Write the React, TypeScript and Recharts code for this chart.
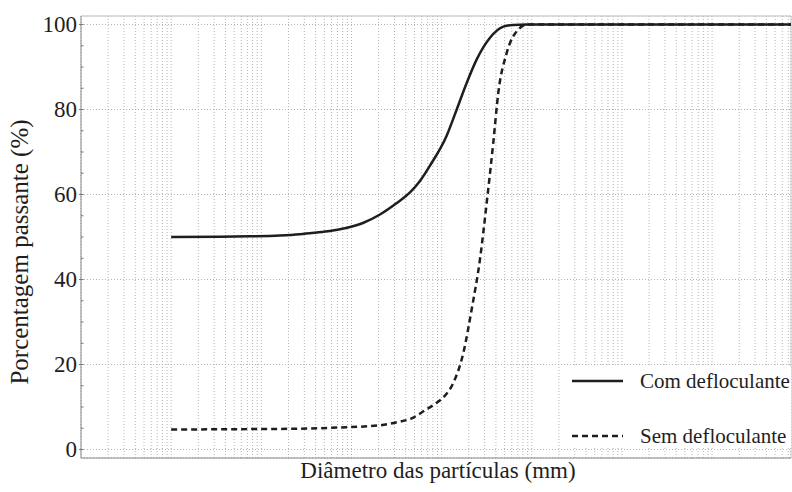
import { LineChart, Line, CartesianGrid, XAxis, YAxis, Legend, ReferenceLine } from "recharts";

// diameter (mm) / percentage passing
const comDiam = [0.001, 0.00348, 0.0075, 0.0161, 0.0269, 0.0394, 0.0578, 0.0869, 0.134, 0.207, 0.318, 0.446, 0.575, 0.743, 1.14, 1.47, 1.9, 2.45, 3.44, 4.83, 6.18, 8.85, 7500];
const comPass = [50.0, 50.05, 50.15, 50.35, 50.65, 51.0, 51.4, 52.1, 53.3, 55.3, 58.0, 60.5, 63.2, 66.8, 73.9, 80, 86.3, 91.8, 96.9, 99.5, 99.9, 100, 100];

const semDiam = [0.001, 0.0075, 0.0269, 0.0578, 0.207, 0.318, 0.485, 0.627, 0.881, 1.07, 1.35, 1.74, 2.15, 2.66, 3.16, 3.74, 4.25, 5.27, 7.4, 8.85, 7500];
const semPass = [4.7, 4.8, 4.9, 5.1, 5.7, 6.4, 7.5, 9.0, 11, 12.5, 15.7, 22.7, 32.9, 44.7, 58, 72.2, 83.9, 93.3, 99.2, 100, 100];

const seriesNames = ["Com defloculante", "Sem defloculante"];

const decades = [1e-4, 1e-3, 1e-2, 1e-1, 1, 10, 100, 1000];
const multipliers = [1, 2, 3, 4, 5, 6, 7, 8, 9];
const xDomain = [1e-4, 7500];

const yDomain = [-2, 102];
const yTicks = [0, 5, 10, 15, 20, 25, 30, 35, 40, 45, 50, 55, 60, 65, 70, 75, 80, 85, 90, 95, 100];
const yMajor = [0, 20, 40, 60, 80, 100];

const comData = comDiam.map((d, i) => ({ d, p: comPass[i] }));
const semData = semDiam.map((d, i) => ({ d, p: semPass[i] }));
const gridTicks = decades
  .flatMap((dec) => multipliers.map((m) => m * dec))
  .filter((v) => v <= xDomain[1]);

const FONT = "'Liberation Serif', 'Times New Roman', serif";
const INK = "#1e1e1e";

const YTick = ({ x, y, payload }: any) => {
  const major = payload.value % 20 === 0;
  return (
    <g>
      <line x1={major ? x + 2 : x + 4} x2={x + 6.5} y1={y} y2={y} stroke="#777" />
      {major && (
        <text x={x} y={y} dy="0.33em" textAnchor="end" fontFamily={FONT} fontSize={23} fill={INK}>
          {payload.value}
        </text>
      )}
    </g>
  );
};

const renderLegend = () => (
  <div style={{ background: "#fff", width: 228, height: 81, position: "relative", fontFamily: FONT, fontSize: 21, color: INK }}>
    {seriesNames.map((name, i) => (
      <div key={name} style={{ position: "absolute", left: 0, top: i === 0 ? 0 : 55, height: 28, display: "flex", alignItems: "center", whiteSpace: "nowrap" }}>
        <svg width={77} height={28}>
          <line x1={9} x2={60} y1={14} y2={14} stroke={INK} strokeWidth={2.5} strokeDasharray={i ? "6 4" : undefined} />
        </svg>
        <span>{name}</span>
      </div>
    ))}
  </div>
);

export default function App() {
  return (
    <div style={{ position: "absolute", left: 0, top: 0 }}>
      <LineChart width={792} height={492} margin={{ top: 16, right: 1, bottom: 0, left: 0 }}>
        <CartesianGrid xAxisId="grid" yAxisId="grid" stroke="#b4b4b4" strokeDasharray="1 2" />
        <XAxis
          dataKey="d"
          type="number"
          scale="log"
          domain={xDomain}
          allowDataOverflow
          ticks={gridTicks}
          interval={0}
          tick={false}
          tickLine={false}
          height={34}
          axisLine={{ stroke: "#888" }}
          label={{
            content: ({ viewBox }: any) => (
              <text x={viewBox.x + viewBox.width / 2 + 2} y={478} textAnchor="middle" fontFamily={FONT} fontSize={23} fill={INK}>
                Diâmetro das partículas (mm)
              </text>
            ),
          }}
        />
        <XAxis xAxisId="grid" dataKey="d" type="number" scale="log" domain={xDomain} allowDataOverflow ticks={gridTicks} interval={0} hide />
        <YAxis
          type="number"
          domain={yDomain}
          allowDataOverflow
          ticks={yTicks}
          interval={0}
          width={81}
          tickSize={3}
          tickMargin={1}
          tickLine={false}
          tick={<YTick />}
          axisLine={{ stroke: "#888" }}
          label={{
            content: () => (
              <text x={28} y={252} transform="rotate(-90 28 252)" textAnchor="middle" fontFamily={FONT} fontSize={25} fill={INK}>
                Porcentagem passante (%)
              </text>
            ),
          }}
        />
        <YAxis yAxisId="grid" type="number" domain={yDomain} allowDataOverflow ticks={yMajor} hide />
        <ReferenceLine y={yDomain[1]} stroke="#c4c4c4" />
        <ReferenceLine x={xDomain[1]} stroke="#c4c4c4" />
        <Line data={comData} dataKey="p" name={seriesNames[0]} type="monotone" stroke={INK} strokeWidth={2.5} dot={false} isAnimationActive={false} />
        <Line data={semData} dataKey="p" name={seriesNames[1]} type="monotone" stroke={INK} strokeWidth={2.5} strokeDasharray="6 4" dot={false} isAnimationActive={false} />
        <Legend
          content={renderLegend}
          layout="vertical"
          verticalAlign="middle"
          align="center"
          wrapperStyle={{ left: 563, top: 367, width: 228, height: 81 }}
        />
      </LineChart>
    </div>
  );
}
